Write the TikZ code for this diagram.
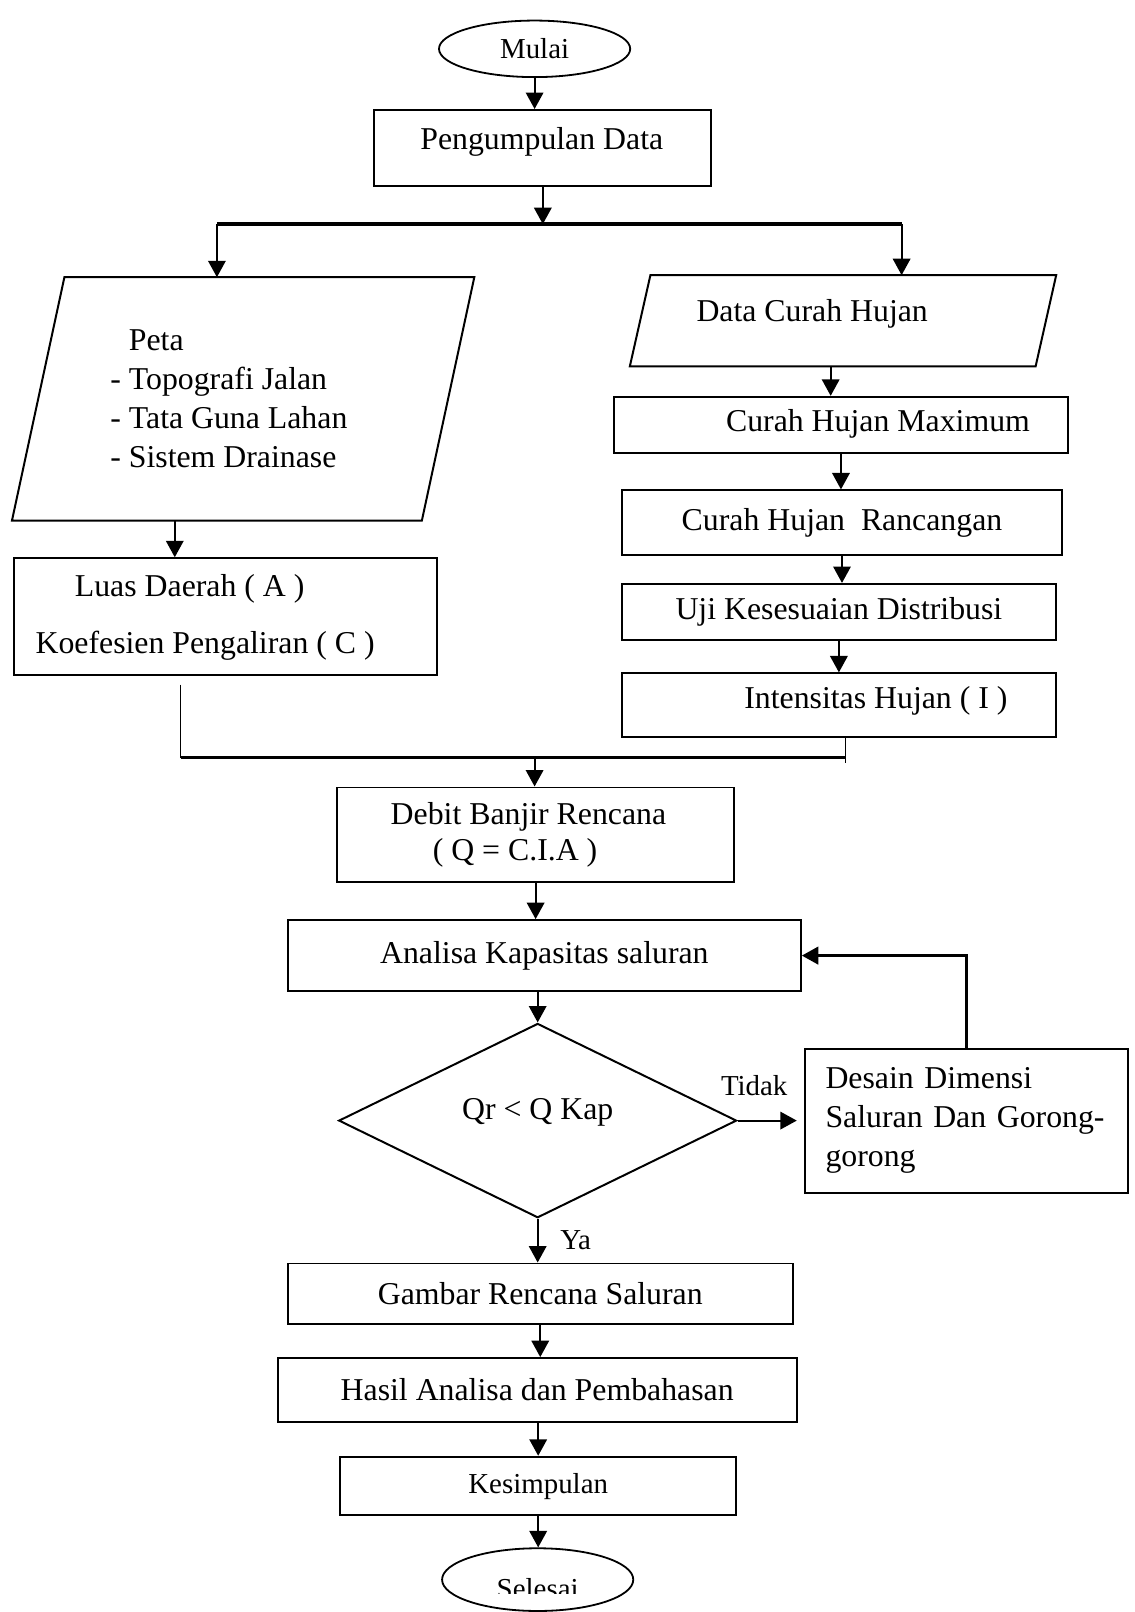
\documentclass[tikz,border=0pt]{standalone}
\usepackage{fontspec}
\setmainfont{Liberation Serif}
\usepackage{tikz}
\usetikzlibrary{shapes.geometric}
\usetikzlibrary{arrows.meta}

\begin{document}
\begin{tikzpicture}[x=0.2mm,y=-0.2mm,
	font=\fontsize{17.6}{21.6}\selectfont,
	kecil/.style={font=\fontsize{16}{19}\selectfont},
	teks/.style={inner sep=0pt},
	tepi/.style={line width=1.1pt},
	kotak/.style={draw,tepi,inner sep=0pt},
	terminal/.style={draw,ellipse,line width=1pt,inner sep=0pt,kecil},
	panah/.style={line width=1.1pt,-{Triangle[length=3.2mm,width=3.4mm]}},
	garis/.style={line width=0.6pt},
	cabang/.style={line width=1.8pt}]
	\useasboundingbox (0,0) rectangle (1104,1568);
	\node[terminal,minimum width=37.2mm,minimum height=11mm] (mulai) at (520,47.5) {Mulai};
	\node[kotak,minimum width=65.6mm,minimum height=14.8mm] (kumpul) at (528,144) {};
	\node[teks] (kumpulteks) at (527,138) {Pengumpulan Data};
	\coordinate (bagi) at (528,218);
	\coordinate (bagiL) at (211,218);
	\coordinate (bagiR) at (877,218);
	% input data
	\node[teks,minimum width=89.8mm,minimum height=47.2mm] (peta) at (236.5,388) {};
	\draw[tepi] ([xshift=10.2mm]peta.north west) -- (peta.north east) -- ([xshift=-10.2mm]peta.south east) -- (peta.south west) -- cycle;
	\node[teks,anchor=west,align=left] (petateks) at (107,388) {\hspace*{3.6mm}Peta\\- Topografi Jalan\\- Tata Guna Lahan\\- Sistem Drainase};
	\node[teks,minimum width=82.8mm,minimum height=17.6mm] (dch) at (820,312) {};
	\draw[tepi] ([xshift=4mm]dch.north west) -- (dch.north east) -- ([xshift=-4mm]dch.south east) -- (dch.south west) -- cycle;
	\node[teks] (dchteks) at (790,305) {Data Curah Hujan};
	\coordinate (dchB) at ([xshift=-2.4mm]dch.south);
	% hujan
	\node[kotak,minimum width=88.4mm,minimum height=11mm] (chmax) at (818,413.5) {};
	\node[teks] (chmaxteks) at (854,412) {Curah Hujan Maximum};
	\node[kotak,minimum width=85.6mm,minimum height=12.6mm] (chran) at (819,508.5) {Curah Hujan~ Rancangan};
	\node[kotak,minimum width=84.4mm,minimum height=11mm] (uji) at (816,595.5) {Uji Kesesuaian Distribusi};
	\node[kotak,minimum width=84.4mm,minimum height=12.4mm] (inten) at (816,686) {};
	\node[teks] (intenteks) at (852,682) {Intensitas Hujan ( I )};
	% luas
	\node[kotak,minimum width=82.2mm,minimum height=22.8mm] (luas) at (219.5,600) {};
	\node[teks] (luasA) at (184.5,573) {Luas Daerah ( A )};
	\node[teks] (luasC) at (199.5,628) {Koefesien Pengaliran ( C )};
	\coordinate (kiri) at ([xshift=-9.9mm]luas.north);
	\coordinate (gabungL) at (176,737);
	\coordinate (gabungR) at (822,737);
	\coordinate (gabung) at (520,737);
	% debit dan kapasitas
	\node[kotak,minimum width=77.2mm,minimum height=18.4mm,align=center] (debit) at (521,812) {Debit Banjir Rencana\hspace*{2.8mm}\\[-1.8pt]( Q = C.I.A )\hspace*{8mm}};
	\node[kotak,minimum width=99.8mm,minimum height=13.8mm] (analisa) at (529.5,929.5) {Analisa Kapasitas saluran};
	\node[draw,diamond,tepi,inner sep=0pt,minimum width=77.4mm,minimum height=37.8mm] (cek) at (523,1090) {};
	\node[teks] (cekteks) at (523,1082) {Qr < Q Kap};
	\node[kotak,minimum width=62.8mm,minimum height=28mm,text width=54.8mm,align=left,inner xsep=4mm] (desain) at (940,1090) {Desain Dimensi\\Saluran Dan Gorong-\\gorong};
	% hasil
	\node[kotak,minimum width=98.2mm,minimum height=11.8mm] (gambar) at (525.5,1258.5) {Gambar Rencana Saluran};
	\node[kotak,minimum width=101mm,minimum height=12.4mm] (hasil) at (522.5,1352) {Hasil Analisa dan Pembahasan};
	\node[kotak,kecil,minimum width=77mm,minimum height=11.4mm] (simpul) at (523.5,1445.5) {Kesimpulan};
	\node[terminal,minimum width=37.2mm,minimum height=12.2mm] (selesai) at (523,1536.5) {};
	\begin{scope}
		\clip (430,1500) rectangle (616,1550);
		\node[teks,kecil] (selesaiteks) at (523,1545) {Selesai};
	\end{scope}

	\draw[panah] (mulai.south) -- (mulai.south |- kumpul.north);
	\draw[panah] (kumpul.south) -- (bagi);
	\draw[cabang] (bagiL) -- (bagiR);
	\draw[panah] (bagiL) -- (bagiL |- peta.north);
	\draw[panah] (bagiR) -- (bagiR |- dch.north);
	\draw[panah] (kiri |- peta.south) -- (kiri);
	\draw[panah] (dchB) -- (dchB |- chmax.north);
	\draw[panah] (chmax.south) -- (chmax.south |- chran.north);
	\draw[panah] (chran.south) -- (chran.south |- uji.north);
	\draw[panah] (uji.south) -- (uji.south |- inten.north);
	\draw[garis] (gabungR |- inten.south) -- ++(0,24);
	\draw[garis] (gabungL |- luas.south) ++(0,8) -- (gabungL);
	\draw[cabang] (gabungL) -- (gabungR);
	\draw[panah] (gabung) -- (gabung |- debit.north);
	\draw[panah] (debit.south) -- (debit.south |- analisa.north);
	\draw[panah] (cek.north |- analisa.south) -- (cek.north);
	\draw[panah,shorten >=1.4mm] (cek.east) -- node[teks,kecil,pos=0.25,above=4.6mm] (tidak) {Tidak} (cek.east -| desain.west);
	\draw[panah,line width=1.5pt] (desain.north) |- (analisa.east);
	\draw[panah] (cek.south) -- node[teks,kecil,right=4.2mm] (ya) {Ya} (cek.south |- gambar.north);
	\draw[panah] (gambar.south) -- (gambar.south |- hasil.north);
	\draw[panah] (simpul.north |- hasil.south) -- (simpul.north);
	\draw[panah] (simpul.south) -- (simpul.south |- selesai.north);
\end{tikzpicture}
\end{document}
